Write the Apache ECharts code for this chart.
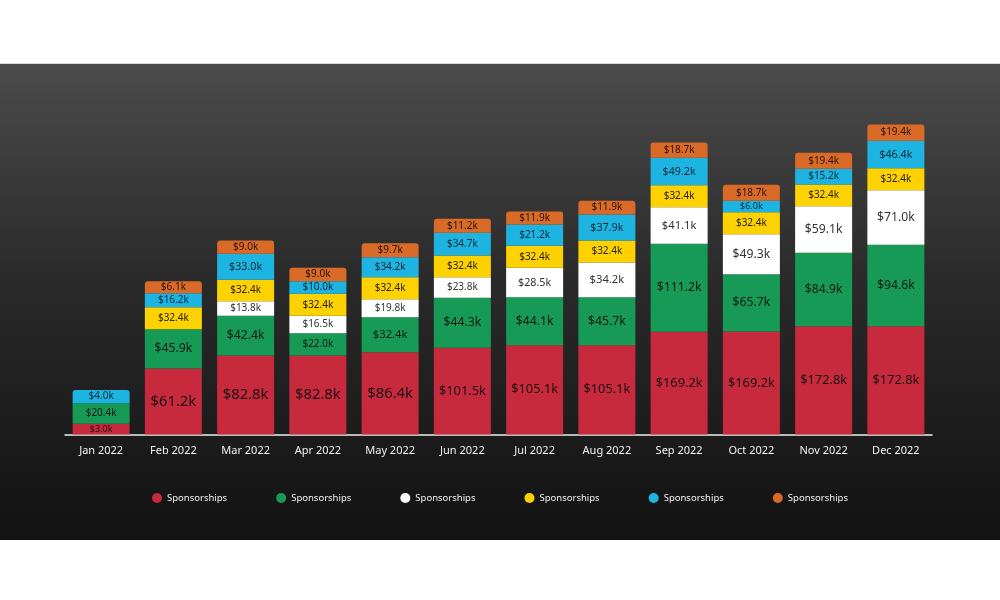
<!DOCTYPE html>
<html>
<head>
<meta charset="utf-8">
<script src="https://cdn.jsdelivr.net/npm/echarts@6/dist/echarts.min.js"></script>
<style>
html,body{margin:0;padding:0;background:#fff;}
#chart{width:1000px;height:600px;}
</style>
</head>
<body>
<div id="chart"></div>
<script>
// Categories
const months = ['Jan 2022','Feb 2022','Mar 2022','Apr 2022','May 2022','Jun 2022','Jul 2022','Aug 2022','Sep 2022','Oct 2022','Nov 2022','Dec 2022'];

// Printed segment values ($k), bottom to top
const redVals    = [3.0, 61.2, 82.8, 82.8, 86.4, 101.5, 105.1, 105.1, 169.2, 169.2, 172.8, 172.8];
const greenVals  = [20.4, 45.9, 42.4, 22.0, 32.4, 44.3, 44.1, 45.7, 111.2, 65.7, 84.9, 94.6];
const whiteVals  = [null, null, 13.8, 16.5, 19.8, 23.8, 28.5, 34.2, 41.1, 49.3, 59.1, 71.0];
const yellowVals = [null, 32.4, 32.4, 32.4, 32.4, 32.4, 32.4, 32.4, 32.4, 32.4, 32.4, 32.4];
const blueVals   = [4.0, 16.2, 33.0, 10.0, 34.2, 34.7, 21.2, 37.9, 49.2, 6.0, 15.2, 46.4];
const orangeVals = [null, 6.1, 9.0, 9.0, 9.7, 11.2, 11.9, 11.9, 18.7, 18.7, 19.4, 19.4];

// Plotted segment amounts as drawn in the picture (the infographic is not to scale)
const redPlot    = [10.7, 66, 79, 79, 82.3, 86.7, 89.3, 89.3, 102.7, 103, 108.3, 108.3];
const greenPlot  = [20.6, 39.3, 39.7, 22.3, 35, 50, 48, 48, 88, 57.3, 73.4, 81.4];
const whitePlot  = [null, null, 14.6, 17.4, 18, 20.6, 29.4, 34.7, 36.6, 40, 46.6, 54.6];
const yellowPlot = [null, 22, 21.4, 22, 22, 21.7, 22, 22, 22, 22, 21.7, 22];
const bluePlot   = [13.3, 14, 26, 12.6, 20, 22.7, 21.3, 26, 27.4, 11.4, 15.7, 27.4];
const orangePlot = [null, 12, 13.3, 13.4, 14, 14, 13, 13.7, 15.3, 16, 16, 16.3];

const legendText = 'Sponsorships';

const seriesDefs = [
  {key:'s1', vals: redVals,    plot: redPlot,    color:'#c82a3d', text:'#1c1012'},
  {key:'s2', vals: greenVals,  plot: greenPlot,  color:'#169a56', text:'#111a14'},
  {key:'s3', vals: whiteVals,  plot: whitePlot,  color:'#ffffff', text:'#333333'},
  {key:'s4', vals: yellowVals, plot: yellowPlot, color:'#fed200', text:'#2a2200'},
  {key:'s5', vals: blueVals,   plot: bluePlot,   color:'#1db4e2', text:'#0c2a36'},
  {key:'s6', vals: orangeVals, plot: orangePlot, color:'#d96a28', text:'#2a1408'}
];

function fmt(v){ return '$' + v.toFixed(1) + 'k'; }
function fontFor(si, h, txt){
  if (h < 12) return 9;
  if (si === 0) return txt.length >= 7 ? 12.8 : 14.8;
  if (h < 26) return 10;
  if (h < 33) return 10.7;
  if (h < 38) return 11.2;
  return 12.2;
}

// top-most segment index per category
const topIdx = months.map((m, i) => {
  let t = -1;
  seriesDefs.forEach((d, si) => { if (d.plot[i] != null) t = si; });
  return t;
});

const series = seriesDefs.map((d, si) => ({
  name: d.key,
  type: 'bar',
  stack: 'total',
  barWidth: 57,
  itemStyle: { color: d.color },
  label: { show: true, position: 'inside', fontFamily: 'Noto Sans' },
  data: d.plot.map((h, i) => {
    if (h == null) return null;
    const txt = fmt(d.vals[i]);
    return {
      value: h,
      label: { formatter: txt, fontSize: fontFor(si, h, txt), color: d.text },
      itemStyle: topIdx[i] === si ? { borderRadius: [3,3,0,0] } : {}
    };
  })
}));

const chart = echarts.init(document.getElementById('chart'), null, {renderer:'canvas'});
chart.setOption({
  backgroundColor: '#ffffff',
  animation: false,
  textStyle: { fontFamily: 'Noto Sans' },
  graphic: [
    {
      type: 'rect', z: -10, silent: true,
      shape: { x: 0, y: 64, width: 1000, height: 476 },
      style: {
        fill: new echarts.graphic.LinearGradient(0, 0, 0, 1, [
          {offset: 0, color: '#4b4b4b'},
          {offset: 0.45, color: '#2a2a2a'},
          {offset: 1, color: '#121212'}
        ])
      }
    },
    {
      type: 'line', z: -9, silent: true,
      shape: { x1: 0, y1: 63.5, x2: 1000, y2: 63.5 },
      style: { stroke: '#d8d8d8', lineWidth: 1 }
    }
  ],
  grid: { left: 65, right: 68, top: 34.5, bottom: 165.5, containLabel: false },
  xAxis: {
    type: 'category',
    data: months,
    axisLine: { show: true, lineStyle: { color: '#f0f0f0', width: 1.5 } },
    axisTick: { show: false },
    axisLabel: { color: '#f2f2f2', fontSize: 11, margin: 11, fontFamily: 'Noto Sans' }
  },
  yAxis: {
    type: 'value', min: 0, max: 400, show: false,
    splitLine: { show: false }
  },
  legend: {
    left: 'center',
    top: 488,
    icon: 'circle',
    itemWidth: 10,
    itemHeight: 10,
    itemGap: 49,
    data: seriesDefs.map(d => d.key),
    formatter: () => legendText,
    textStyle: { color: '#f2f2f2', fontSize: 9.5, fontFamily: 'Noto Sans' }
  },
  series: series
});
</script>
</body>
</html>
